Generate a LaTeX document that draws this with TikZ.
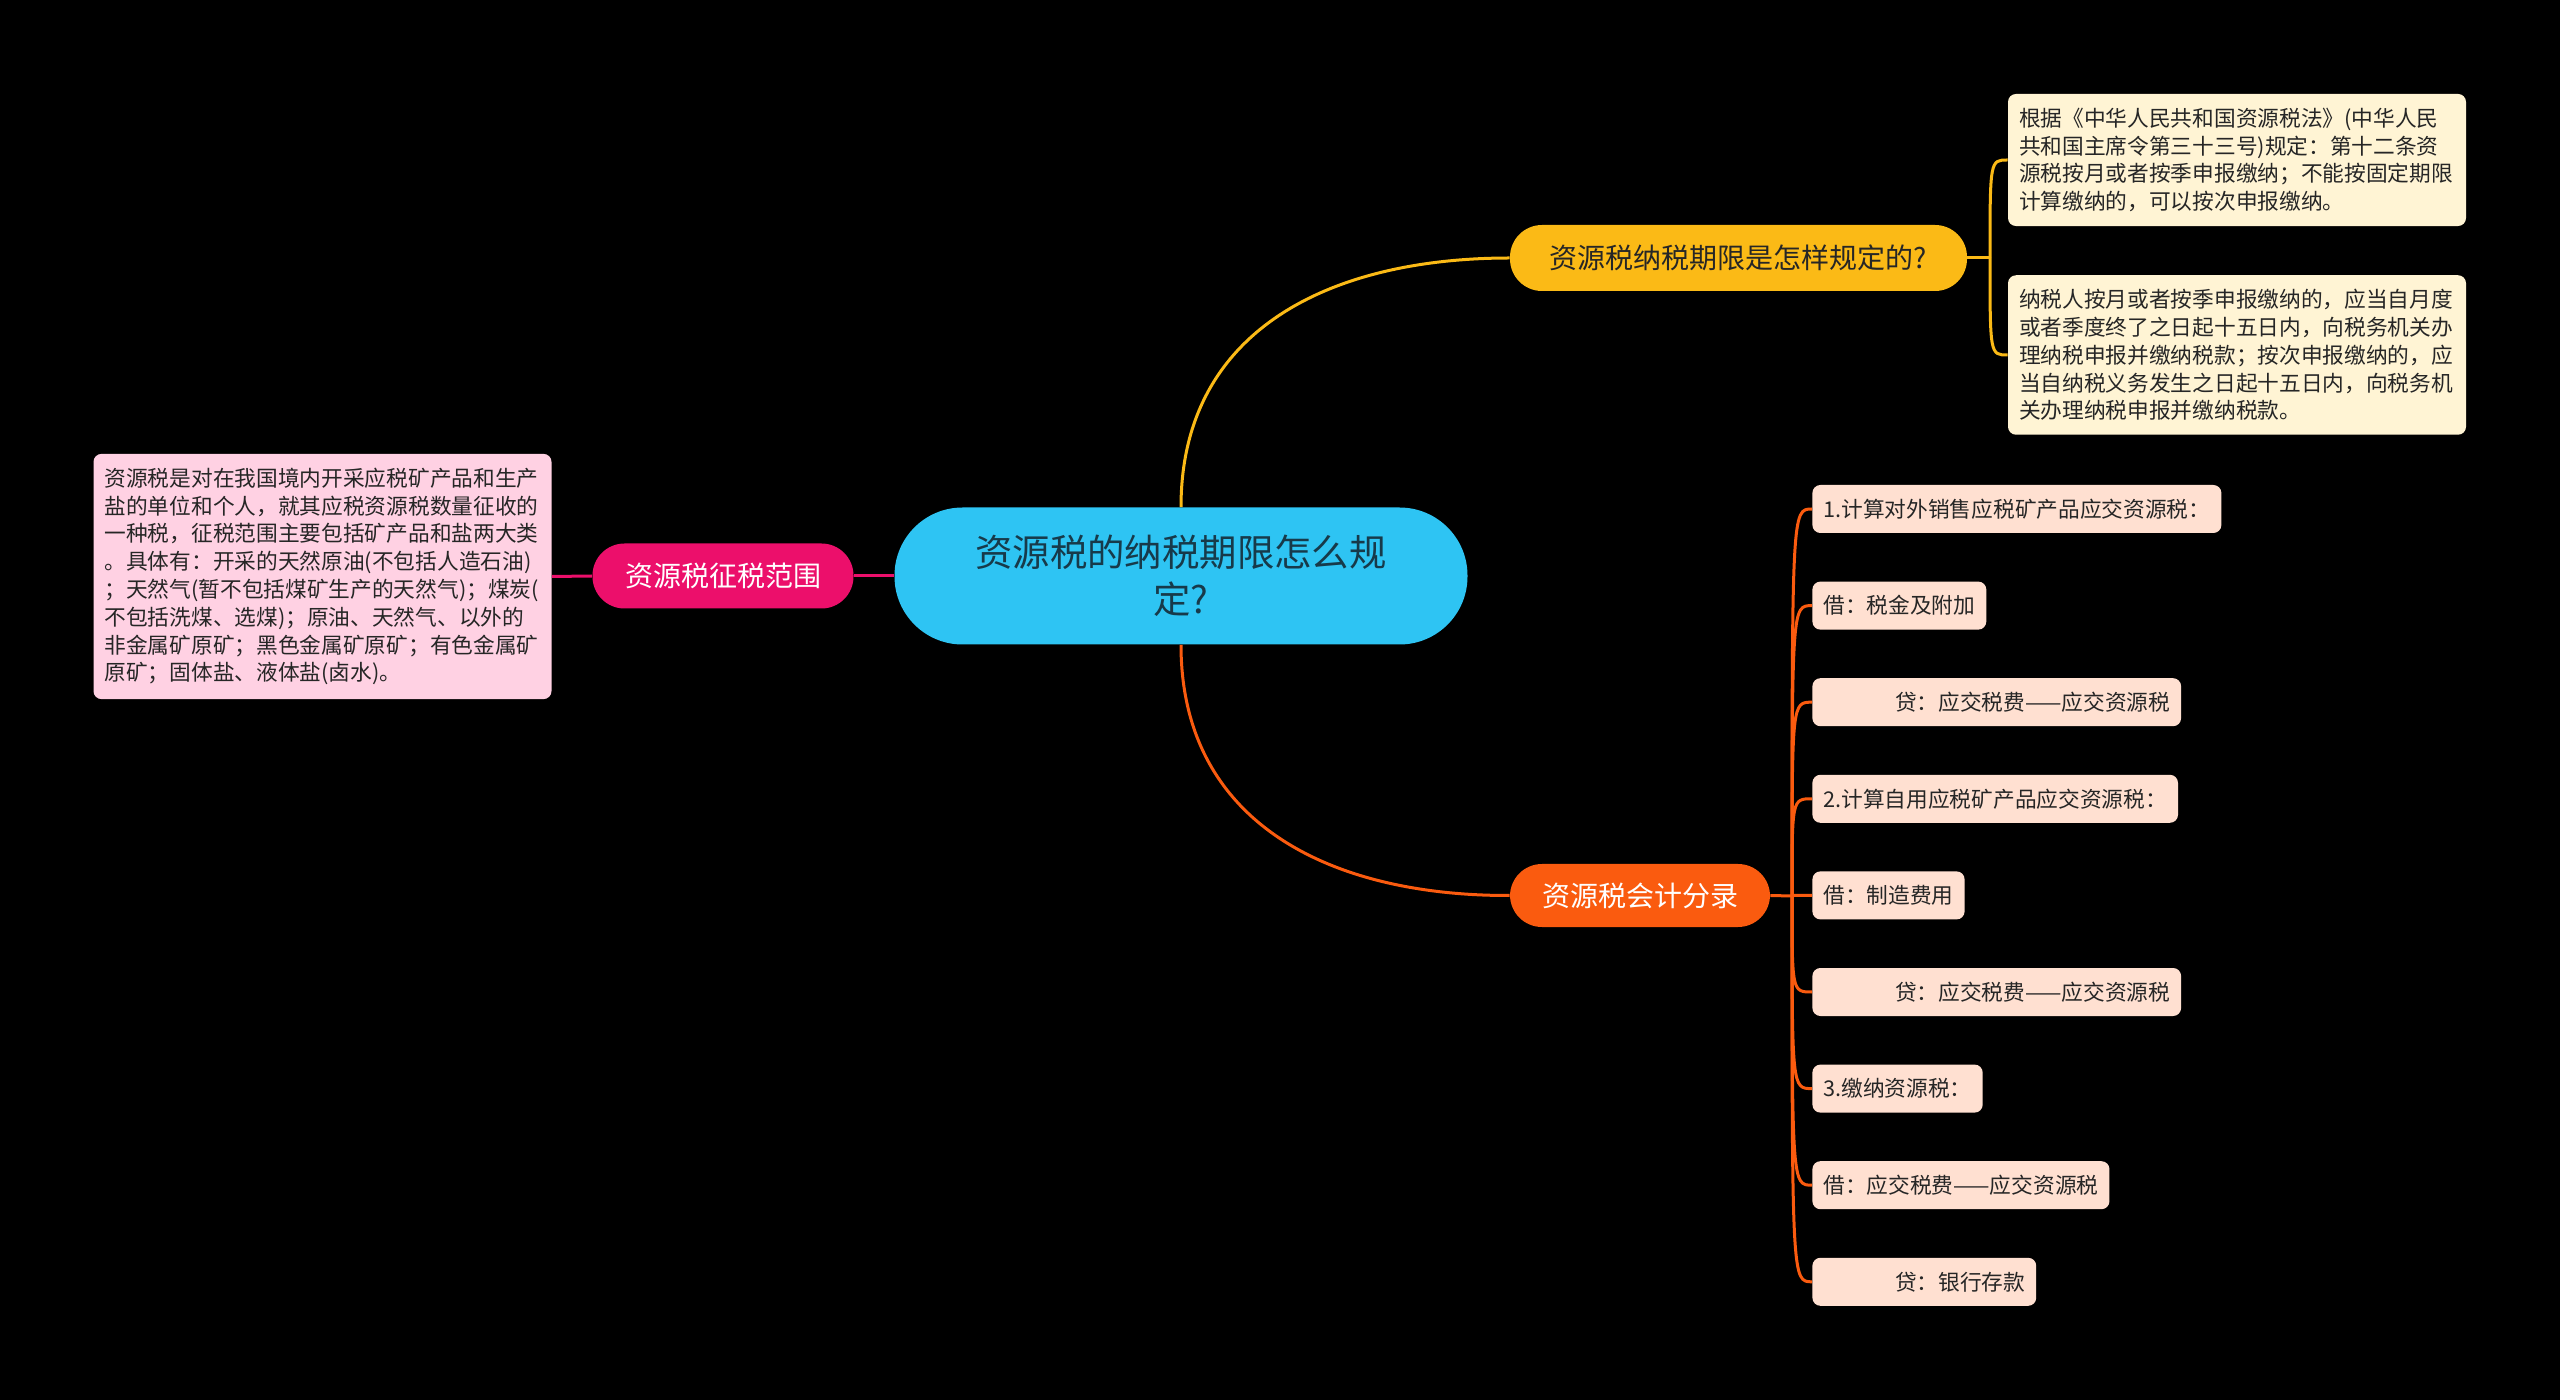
\documentclass[tikz,border=0pt]{standalone}
\usepackage{fontspec}
\setmainfont{Noto Sans CJK SC}
\definecolor{rootblue}{HTML}{2EC4F3}
\definecolor{roottext}{HTML}{173A4A}
\definecolor{scopepink}{HTML}{EC0F6B}
\definecolor{notepink}{HTML}{FFD1E3}
\definecolor{termgold}{HTML}{FBBA16}
\definecolor{notecream}{HTML}{FFF4D4}
\definecolor{entryorange}{HTML}{FA5B0F}
\definecolor{notepeach}{HTML}{FFE0D1}

\begin{document}
\begin{tikzpicture}[x=0.5pt,y=-0.5pt,
    topic/.style={rounded corners=16pt,minimum height=32.5pt,inner xsep=10pt,
      font=\fontsize{14pt}{17pt}\selectfont},
    note/.style={rounded corners=4pt,align=left,inner xsep=5.5pt,inner ysep=7pt,
      text=black!85,font=\fontsize{10.85pt}{13.9pt}\selectfont},
    link/.style={line width=1.5pt}]
  \fill[black] (0,0) rectangle (2560,1400);
  \useasboundingbox (0,0) rectangle (2560,1400);

  \node[fill=rootblue,text=roottext,rounded corners=34pt,minimum width=286.5pt,
    minimum height=68.5pt,align=center,font=\fontsize{18.7pt}{23.5pt}\selectfont]
    (root) at (1181,576) {资源税的纳税期限怎么规\\定?};

  % left branch
  \node[topic,fill=scopepink,text=white,minimum width=130.5pt] (scope) at (723,576) {资源税征税范围};
  \node[note,fill=notepink,text width=218pt] (scopenote) at (322.5,576.5)
    {资源税是对在我国境内开采应税矿产品和生产\\
     盐的单位和个人，就其应税资源税数量征收的\\
     一种税，征税范围主要包括矿产品和盐两大类\\
     。具体有：开采的天然原油(不包括人造石油)\\
     ；天然气(暂不包括煤矿生产的天然气)；煤炭(\\
     不包括洗煤、选煤)；原油、天然气、以外的\\
     非金属矿原矿；黑色金属矿原矿；有色金属矿\\
     原矿；固体盐、液体盐(卤水)。};
  \draw[link,scopepink] (root.west) -- (scope.east);
  \draw[link,scopepink] (scope.west) -- (scopenote.east);

  % upper right branch
  \node[topic,fill=termgold,text=black!85,minimum width=228.5pt,minimum height=33pt]
    (term) at (1738.5,258) {资源税纳税期限是怎样规定的?};
  \node[note,fill=notecream,text width=218pt] (termlaw) at (2237,160)
    {根据《中华人民共和国资源税法》(中华人民\\
     共和国主席令第三十三号)规定：第十二条资\\
     源税按月或者按季申报缴纳；不能按固定期限\\
     计算缴纳的，可以按次申报缴纳。};
  \node[note,fill=notecream,text width=218pt] (termdue) at (2237,355)
    {纳税人按月或者按季申报缴纳的，应当自月度\\
     或者季度终了之日起十五日内，向税务机关办\\
     理纳税申报并缴纳税款；按次申报缴纳的，应\\
     当自纳税义务发生之日起十五日内，向税务机\\
     关办理纳税申报并缴纳税款。};
  \draw[link,termgold] (root.north) .. controls (1181,330) and (1330,258) .. (term.west);
  \coordinate (termfork) at (1990,258);
  \draw[link,termgold] (term.east) -- (termfork);
  \foreach \n in {termlaw,termdue}
    \draw[link,termgold] (termfork) .. controls (termfork |- \n.west) .. (\n.west);

  % lower right branch
  \node[topic,fill=entryorange,text=white,minimum width=130pt,minimum height=31.5pt]
    (entry) at (1640,895.5) {资源税会计分录};
  \foreach \txt [count=\i from 0] in {1.计算对外销售应税矿产品应交资源税：,
      借：税金及附加,
      \hspace*{3.3em}贷：应交税费——应交资源税,
      2.计算自用应税矿产品应交资源税：,
      借：制造费用,
      \hspace*{3.3em}贷：应交税费——应交资源税,
      3.缴纳资源税：,
      借：应交税费——应交资源税,
      \hspace*{3.3em}贷：银行存款}
    \node[note,fill=notepeach,anchor=west,minimum height=24pt,inner ysep=3pt]
      (e\i) at (1812,509+96.6*\i) {\txt};
  \draw[link,entryorange] (root.south) .. controls (1181,823) and (1330,896) .. (entry.west);
  \coordinate (entryfork) at (1792,896);
  \draw[link,entryorange] (entry.east) -- (entryfork);
  \foreach \i in {0,...,8}
    \draw[link,entryorange] (entryfork) .. controls (entryfork |- e\i.west) .. (e\i.west);
\end{tikzpicture}
\end{document}
